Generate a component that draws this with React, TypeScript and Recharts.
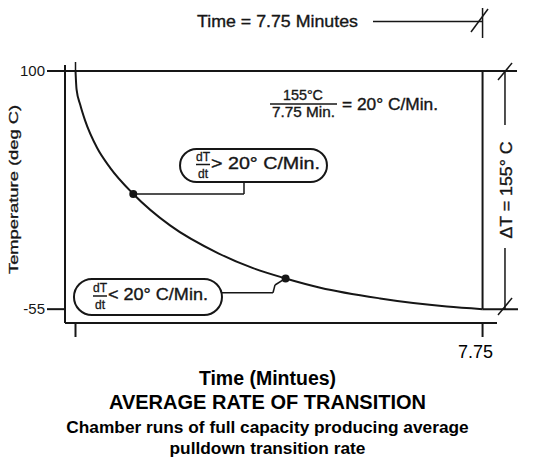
import { LineChart, Line, XAxis, YAxis, ReferenceLine, ReferenceDot, ReferenceArea } from 'recharts'

// pulldown curve (minutes, deg C)
const minutes = [0, 0.02, 0.09, 0.18, 0.41, 0.66, 1.1, 1.8, 2.71, 3.38, 4.0, 4.66, 5.8, 6.43, 7.07, 7.75]
const temperature = [100, 88, 78, 68, 50, 37, 20, -0.5, -18.5, -28.3, -35, -41, -48, -51, -53.3, -55]
const markedMinutes = [1.1, 4.0]
const tempTicks = [100, -55]
const timeTicks = [0, 7.75]
const timeTickLabels = ['', '7.75']

const data = minutes.map((m, i) => ({ minutes: m, temp: temperature[i], marked: markedMinutes.includes(m) }))

const INK = '#161616'
const HAND = '"Liberation Sans", Arial, sans-serif'

const seg = (key: string, x1: number, y1: number, x2: number, y2: number, w = 2) => (
  <ReferenceLine key={key} segment={[{ x: x1, y: y1 }, { x: x2, y: y2 }]} stroke={INK} strokeWidth={w} ifOverflow="visible" />
)

const note = (text: string, size: number, len: number, anchor: 'start' | 'middle' = 'middle', rotate = false) =>
  (p: any) => (
    <text x={p.cx} y={p.cy} textAnchor={anchor} dominantBaseline="central" fontSize={size} fontFamily={HAND}
          fill={INK} stroke={INK} strokeWidth={0.35} textLength={len} lengthAdjust="spacingAndGlyphs"
          transform={rotate ? `rotate(-90 ${p.cx} ${p.cy})` : undefined}>
      {text}
    </text>
  )

const callout = (sign: string, fracDx: number, textLen: number) => (p: any) => {
  const { x, y, width, height } = p
  const cy = y + height / 2
  const fx = x + fracDx
  return (
    <g>
      <rect x={x} y={y} width={width} height={height} rx={height / 2} fill="#fff" stroke={INK} strokeWidth={2}/>
      <text x={fx} y={cy - 9} textAnchor="middle" dominantBaseline="central" fontSize={12} fontFamily={HAND}
            fill={INK} stroke={INK} strokeWidth={0.3}>dT</text>
      <line x1={fx - 7} x2={fx + 7} y1={cy - 1} y2={cy - 1} stroke={INK} strokeWidth={1.5}/>
      <text x={fx} y={cy + 8} textAnchor="middle" dominantBaseline="central" fontSize={12} fontFamily={HAND}
            fill={INK} stroke={INK} strokeWidth={0.3}>dt</text>
      <text x={fx + 8} y={cy - 2} dominantBaseline="central" fontSize={17} fontFamily={HAND} fill={INK}
            stroke={INK} strokeWidth={0.35} textLength={textLen} lengthAdjust="spacingAndGlyphs">{sign} 20° C/Min.</text>
    </g>
  )
}

const MarkedDot = (p: any) =>
  p.payload.marked
    ? <circle key={p.index} cx={p.cx} cy={p.cy} r={4} fill={INK}/>
    : <g key={p.index}/>

const TimeTick = (p: any) => {
  const label = timeTickLabels[timeTicks.indexOf(p.payload.value)]
  return (
    <text x={p.x - 7} y={p.y + 19} textAnchor="middle" fontSize={18} fontFamily="Arial, 'Liberation Sans', sans-serif" fill="#000">
      {label}
    </text>
  )
}

const TempLabel = (p: any) => {
  const vb = p.viewBox
  const cx = vb.x - 2
  const cy = vb.y + vb.height / 2 - 7.5
  return (
    <text x={cx} y={cy} textAnchor="middle" dominantBaseline="central" fontSize={13} fontFamily={HAND} fill={INK}
          stroke={INK} strokeWidth={0.3} textLength={169} lengthAdjust="spacingAndGlyphs"
          transform={`rotate(-90 ${cx} ${cy})`}>
      Temperature (deg C)
    </text>
  )
}

export default function App() {
  return (
    <div style={{ position: 'absolute', left: 0, top: 0, width: 547, height: 457, background: '#fff' }}>
      <LineChart width={547} height={457} data={data} margin={{ top: 71, right: 50, bottom: 104, left: 15 }}>
        <XAxis type="number" dataKey="minutes" domain={[-0.2, 8.025]} ticks={timeTicks} interval={0}
               height={30} tickSize={14} tickMargin={2} tick={TimeTick}
               axisLine={{ stroke: INK, strokeWidth: 2 }} tickLine={{ stroke: INK, strokeWidth: 2 }}/>
        <YAxis type="number" domain={[-64, 100]} ticks={tempTicks} interval={0} width={50}
               tickSize={18} tickMargin={2} allowDataOverflow
               tick={{ fill: INK, fontSize: 15, fontFamily: HAND }}
               axisLine={{ stroke: INK, strokeWidth: 2 }} tickLine={{ stroke: INK, strokeWidth: 2 }}
               label={{ value: 'Temperature (deg C)', content: TempLabel }}/>

        {/* frame and dimension lines */}
        {seg('top', -0.2, 100, 8.406, 100)}
        {seg('yext', -0.2, 100, -0.2, 103.9)}
        {seg('t0', 0, 100, 0, 105.86, 1.5)}
        {seg('right', 7.75, 100, 7.75, -55)}
        {seg('bottomR', 7.75, -55, 8.425, -55)}
        {seg('dUp', 8.177, 100, 8.177, 64.86, 1.5)}
        {seg('dDown', 8.177, -15.19, 8.177, -55, 1.5)}
        {seg('slashTop', 8.044, 94.14, 8.311, 105.21, 1.5)}
        {seg('slashBot', 8.044, -58.8, 8.311, -47.73, 1.5)}
        {seg('timeLine', 5.664, 132.21, 7.75, 132.21, 1.5)}
        {seg('timeTick', 7.75, 141.0, 7.75, 121.48, 1.5)}
        {seg('timeSlash', 7.53, 125.38, 7.854, 140.35, 1.5)}
        {seg('frac', 3.703, 78.52, 4.979, 78.52, 1.5)}

        {/* leaders from the marked points to the callouts */}
        {seg('lead1a', 1.1, 20, 3.208, 20, 1.5)}
        {seg('lead1b', 3.208, 20, 3.208, 27.76, 1.5)}
        {seg('lead2a', 2.789, -44.28, 3.76, -44.28, 1.5)}
        {seg('lead2b', 3.76, -44.28, 3.798, -39.27, 1.5)}
        {seg('lead2c', 3.798, -39.27, 4.0, -35, 1.5)}

        <ReferenceArea x1={1.99} x2={4.788} y1={27.76} y2={49.24} ifOverflow="visible" shape={callout('>', 23, 109)}/>
        <ReferenceArea x1={-0.029} x2={2.789} y1={-58.79} y2={-35.36} ifOverflow="visible" shape={callout('<', 26, 100)}/>

        <ReferenceDot x={3.846} y={132.21} ifOverflow="visible" shape={note('Time = 7.75 Minutes', 17, 161)}/>
        <ReferenceDot x={4.331} y={85.03} ifOverflow="visible" shape={note('155°C', 15, 40)}/>
        <ReferenceDot x={4.341} y={73.32} ifOverflow="visible" shape={note('7.75 Min.', 15, 63)}/>
        <ReferenceDot x={5.074} y={78.52} ifOverflow="visible" shape={note('= 20° C/Min.', 16, 96, 'start')}/>
        <ReferenceDot x={8.215} y={22.56} ifOverflow="visible" shape={note('ΔT = 155° C', 16, 97, 'middle', true)}/>

        <Line type="monotone" dataKey="temp" stroke={INK} strokeWidth={2} dot={MarkedDot} activeDot={false}
              isAnimationActive={false}/>
      </LineChart>

      <svg width={547} height={457} style={{ position: 'absolute', left: 0, top: 0, pointerEvents: 'none' }}>
        <g fontFamily="Arial, 'Liberation Sans', sans-serif" fontWeight="bold" fill="#000" textAnchor="middle">
          <text x={267.5} y={385} fontSize={19.5}>Time (Mintues)</text>
          <text x={267.5} y={409} fontSize={20}>AVERAGE RATE OF TRANSITION</text>
          <text x={267.5} y={433} fontSize={17.3}>Chamber runs of full capacity producing average</text>
          <text x={267.5} y={454} fontSize={17.3}>pulldown transition rate</text>
        </g>
      </svg>
    </div>
  )
}
